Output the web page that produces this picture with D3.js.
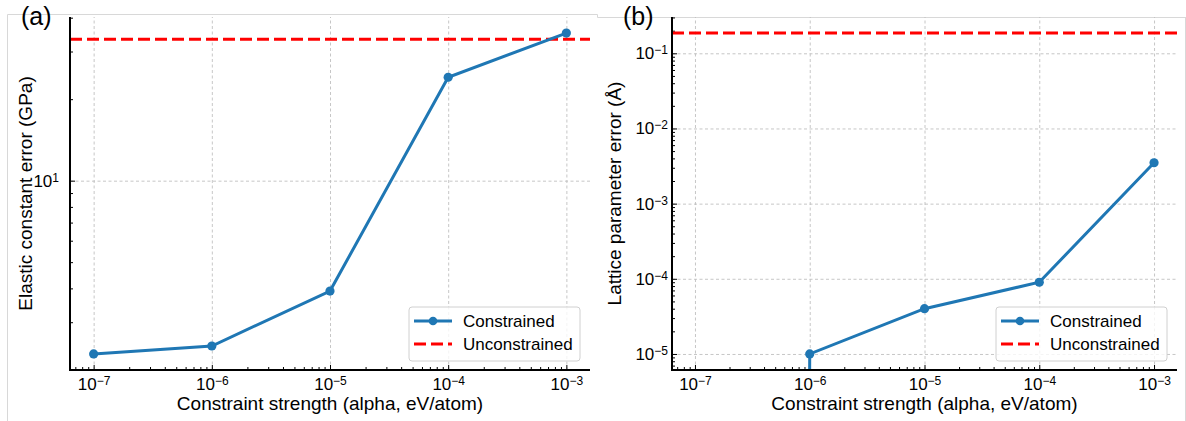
<!DOCTYPE html>
<html>
<head>
<meta charset="utf-8">
<script src="https://cdn.jsdelivr.net/npm/d3@7"></script>
<style>
  body { margin: 0; background: #fff; }
  svg { display: block; font-family: "Liberation Sans", Arial, sans-serif; }
</style>
</head>
<body>
<script>
// data
const alphaValues = [1e-7, 1e-6, 1e-5, 1e-4, 1e-3];
const xTickValues = [1e-7, 1e-6, 1e-5, 1e-4, 1e-3];
const elasticConstrained = [2.29, 2.45, 3.91, 24.1, 35.1];
const elasticUnconstrained = 33.3;
const latticeConstrained = [0, 1e-5, 4.0e-5, 9.0e-5, 3.5e-3];
const latticeUnconstrained = 0.186;
const seriesNames = ["Constrained", "Unconstrained"];
const panelLabels = ["(a)", "(b)"];
const yLabels = ["Elastic constant error (GPa)", "Lattice parameter error (Å)"];
const xLabel = "Constraint strength (alpha, eV/atom)";

const W = 1186, H = 421;
const blue = "#1f77b4", red = "#ff0000", gridColor = "#c0c0c0";

const svg = d3.select("body").append("svg").attr("width", W).attr("height", H);

// faint figure frame seen in the screenshot
svg.append("path")
    .attr("d", "M7.5,421V14.5H597.5V17.5H1186")
    .attr("fill", "none").attr("stroke", "#d8d8d8").attr("stroke-width", 1);
svg.append("line")
    .attr("x1", 1185.5).attr("x2", 1185.5).attr("y1", 17).attr("y2", H)
    .attr("stroke", "#d8d8d8");

// matplotlib-like 5% margins in log space
function logExtent(vals) {
    const l = vals.filter(v => v > 0).map(Math.log10);
    const lo = d3.min(l), hi = d3.max(l), p = (hi - lo) * 0.05;
    return [Math.pow(10, lo - p), Math.pow(10, hi + p)];
}
function majorTicks(domain) {
    const out = [];
    for (let e = Math.ceil(Math.log10(domain[0])); e <= Math.floor(Math.log10(domain[1])); e++) out.push(Math.pow(10, e));
    return out;
}
function minorTicks(domain) {
    const out = [];
    for (let e = Math.floor(Math.log10(domain[0])); e <= Math.ceil(Math.log10(domain[1])); e++) {
        for (let k = 2; k <= 9; k++) {
            const v = k * Math.pow(10, e);
            if (v >= domain[0] && v <= domain[1]) out.push(v);
        }
    }
    return out;
}
function powLabel(sel) {
    sel.each(function(d) {
        const t = d3.select(this).text(null);
        const ex = Math.round(Math.log10(d));
        t.append("tspan").text("10");
        t.append("tspan").attr("dy", "-0.42em").attr("font-size", "12px")
            .text(String(ex).replace("-", "\u2212"));
    });
}

const panels = [
    { values: elasticConstrained, ref: elasticUnconstrained, left: 70, right: 590, labelX: 21, yLabelX: 32, yPad: 11 },
    { values: latticeConstrained, ref: latticeUnconstrained, left: 672, right: 1177, labelX: 623, yLabelX: 621, yPad: 4 }
];
const plotTop = 17, plotBottom = 370;

panels.forEach((p, i) => {
    const x = d3.scaleLog().domain(logExtent(alphaValues)).range([p.left, p.right]);
    const y = d3.scaleLog().domain(logExtent(p.values.concat([p.ref]))).range([plotBottom, plotTop]);
    const g = svg.append("g");

    const clipId = "clip" + i;
    svg.append("clipPath").attr("id", clipId).append("rect")
        .attr("x", p.left).attr("y", plotTop).attr("width", p.right - p.left).attr("height", plotBottom - plotTop);

    // grid
    g.append("g").attr("transform", `translate(0,${plotBottom})`)
        .call(d3.axisBottom(x).tickValues(xTickValues).tickSize(-(plotBottom - plotTop)).tickFormat(""))
        .call(a => a.select(".domain").remove())
        .selectAll("line").attr("stroke", gridColor).attr("stroke-dasharray", "3,2.5").attr("stroke-width", 0.9);
    g.append("g").attr("transform", `translate(${p.left},0)`)
        .call(d3.axisLeft(y).tickValues(majorTicks(y.domain())).tickSize(-(p.right - p.left)).tickFormat(""))
        .call(a => a.select(".domain").remove())
        .selectAll("line").attr("stroke", gridColor).attr("stroke-dasharray", "3,2.5").attr("stroke-width", 0.9);

    // minor ticks (inward)
    g.append("g").attr("transform", `translate(0,${plotBottom})`)
        .call(d3.axisBottom(x).tickValues(minorTicks(x.domain())).tickSize(-3).tickFormat(""))
        .call(a => a.select(".domain").remove());
    g.append("g").attr("transform", `translate(${p.left},0)`)
        .call(d3.axisLeft(y).tickValues(minorTicks(y.domain())).tickSize(-3).tickFormat(""))
        .call(a => a.select(".domain").remove());

    // major ticks + labels
    const gx = g.append("g").attr("transform", `translate(0,${plotBottom})`)
        .call(d3.axisBottom(x).tickValues(xTickValues).tickSize(-5).tickPadding(8).tickFormat(d => d))
        .attr("font-size", null).attr("font-family", null)
        .call(a => a.select(".domain").remove());
    gx.selectAll("text").attr("font-size", "17px").attr("fill", "#000").call(powLabel);

    const gy = g.append("g").attr("transform", `translate(${p.left},0)`)
        .call(d3.axisLeft(y).tickValues(majorTicks(y.domain())).tickSize(-5).tickPadding(p.yPad).tickFormat(d => d))
        .attr("font-size", null).attr("font-family", null)
        .call(a => a.select(".domain").remove());
    gy.selectAll("text").attr("font-size", "17px").attr("fill", "#000").call(powLabel);

    // unconstrained reference line
    const plot = g.append("g").attr("clip-path", `url(#${clipId})`);
    plot.append("line")
        .attr("x1", x.range()[0]).attr("x2", x.range()[1])
        .attr("y1", y(p.ref)).attr("y2", y(p.ref))
        .attr("stroke", red).attr("stroke-width", 3).attr("stroke-dasharray", "12,5");

    // constrained series (zero clipped like matplotlib's log scale)
    const pts = alphaValues.map((a, k) => ({ a: a, v: p.values[k] > 0 ? p.values[k] : 1e-300 }));
    plot.append("path").datum(pts)
        .attr("d", d3.line().x(d => x(d.a)).y(d => y(d.v)))
        .attr("fill", "none").attr("stroke", blue).attr("stroke-width", 3);
    plot.selectAll("circle").data(pts).enter().append("circle")
        .attr("cx", d => x(d.a)).attr("cy", d => y(d.v)).attr("r", 4.6).attr("fill", blue);

    // spines (left + bottom only)
    g.append("line").attr("x1", p.left).attr("x2", p.left).attr("y1", plotTop).attr("y2", plotBottom + 1)
        .attr("stroke", "#000").attr("stroke-width", 2);
    g.append("line").attr("x1", p.left - 1).attr("x2", p.right).attr("y1", plotBottom).attr("y2", plotBottom)
        .attr("stroke", "#000").attr("stroke-width", 2);

    // labels
    g.append("text").attr("x", (p.left + p.right) / 2).attr("y", 410)
        .attr("text-anchor", "middle").attr("font-size", "19px").text(xLabel);
    g.append("text")
        .attr("transform", `translate(${p.yLabelX},${(plotTop + plotBottom) / 2}) rotate(-90)`)
        .attr("text-anchor", "middle").attr("font-size", "19px").text(yLabels[i]);
    g.append("text").attr("x", p.labelX).attr("y", 25).attr("font-size", "25px").text(panelLabels[i]);

    // legend, lower right
    const lw = 171, lh = 54;
    const lg = g.append("g").attr("transform", `translate(${p.right - 10 - lw},${plotBottom - 9 - lh})`);
    lg.append("rect").attr("width", lw).attr("height", lh).attr("rx", 3)
        .attr("fill", "#fff").attr("fill-opacity", 0.8).attr("stroke", "#d0d0d0");
    const rows = lg.selectAll(".row").data(seriesNames).enter().append("g")
        .attr("transform", (d, k) => `translate(0,${14 + k * 23})`);
    rows.append("line").attr("x1", 5).attr("x2", 43)
        .attr("stroke", (d, k) => k === 0 ? blue : red)
        .attr("stroke-width", 3)
        .attr("stroke-dasharray", (d, k) => k === 0 ? null : "12,5");
    rows.filter((d, k) => k === 0).append("circle").attr("cx", 24).attr("r", 4.3).attr("fill", blue);
    rows.append("text").attr("x", 54).attr("dy", "0.35em").attr("font-size", "17px").text(d => d);
});
</script>
</body>
</html>
